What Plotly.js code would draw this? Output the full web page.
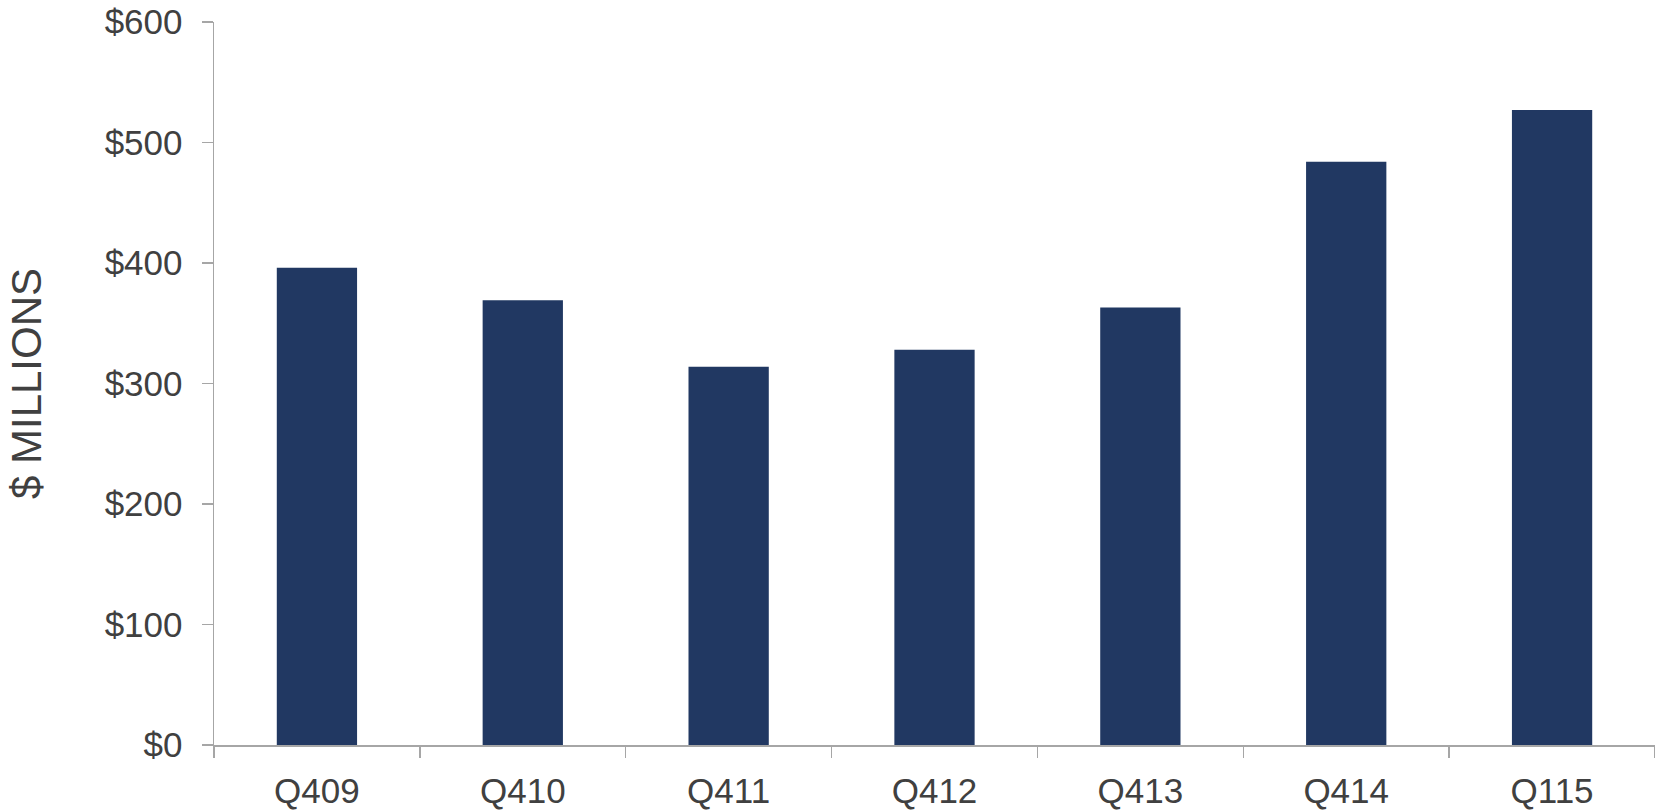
<!DOCTYPE html>
<html>
<head>
<meta charset="utf-8">
<script src="https://cdn.plot.ly/plotly-3.0.1.min.js"></script>
<style>html,body{margin:0;padding:0;background:#fff;}#chart{width:1655px;height:811px;}</style>
</head>
<body>
<div id="chart"></div>
<script>
const categories = ["Q409", "Q410", "Q411", "Q412", "Q413", "Q414", "Q115"];
const values = [396, 369, 314, 328, 363, 484, 527];
const yTickVals = [0, 100, 200, 300, 400, 500, 600];
const yTickText = ["$0", "$100", "$200", "$300", "$400", "$500", "$600"];

const font = "Liberation Sans, Arial, sans-serif";
const trace = {
  type: "bar",
  x: categories,
  y: values,
  marker: {color: "#213862"},
  hoverinfo: "x+y"
};
const layout = {
  width: 1655,
  height: 811,
  margin: {l: 214, r: 0, t: 22, b: 66, pad: 0},
  paper_bgcolor: "#ffffff",
  plot_bgcolor: "#ffffff",
  showlegend: false,
  bargap: 0.61,
  font: {family: font, color: "#404040", size: 35},
  xaxis: {
    type: "category",
    showline: true,
    linecolor: "#a6a6a6",
    linewidth: 2,
    ticks: "outside",
    tickson: "boundaries",
    ticklen: 11,
    tickcolor: "#a6a6a6",
    tickwidth: 1.5,
    showgrid: false,
    zeroline: false,
    ticklabelstandoff: 14,
    ticklabeloverflow: "allow",
    tickfont: {family: font, size: 35, color: "#404040"},
    automargin: false
  },
  yaxis: {
    range: [0, 600],
    tickvals: yTickVals,
    ticktext: yTickText,
    showline: true,
    linecolor: "#a6a6a6",
    linewidth: 1.5,
    ticks: "outside",
    ticklen: 11,
    tickcolor: "#a6a6a6",
    tickwidth: 1.5,
    showgrid: false,
    zeroline: false,
    ticklabelstandoff: 12,
    ticklabeloverflow: "allow",
    tickfont: {family: font, size: 35, color: "#404040"},
    title: {text: "$ MILLIONS", font: {family: font, size: 42, color: "#404040"}, standoff: 50},
    automargin: false
  }
};
Plotly.newPlot("chart", [trace], layout, {displayModeBar: false, staticPlot: true});
</script>
</body>
</html>
